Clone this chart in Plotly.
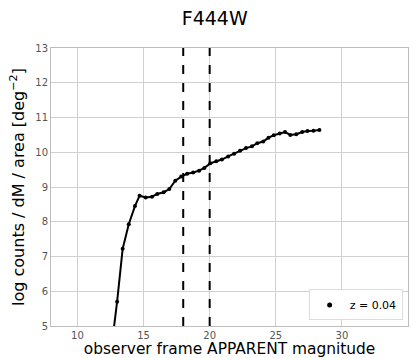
import plotly.graph_objects as go

mag = [12.55, 13.0, 13.42, 13.88, 14.35, 14.7, 15.16, 15.64, 16.04, 16.52, 16.95,
       17.4, 17.85, 18.3, 18.75, 19.2, 19.6, 20.05, 20.5, 20.93, 21.4, 21.85,
       22.3, 22.75, 23.2, 23.6, 24.05, 24.45, 24.85, 25.3, 25.7, 26.1, 26.55,
       27.0, 27.4, 27.85, 28.3]
logn = [4.3, 5.70, 7.22, 7.93, 8.45, 8.75, 8.70, 8.72, 8.80, 8.85, 8.94,
        9.18, 9.30, 9.38, 9.42, 9.47, 9.55, 9.68, 9.74, 9.79, 9.88, 9.96,
        10.04, 10.12, 10.17, 10.26, 10.31, 10.42, 10.49, 10.54, 10.58, 10.50, 10.52,
        10.58, 10.61, 10.62, 10.64]
cuts = [18, 20]
x_ticks = [10, 15, 20, 25, 30, 35]
y_ticks = [5, 6, 7, 8, 9, 10, 11, 12, 13]
label = "z = 0.04"

fig = go.Figure()
fig.add_trace(go.Scatter(x=mag, y=logn, mode="lines+markers",
                         line=dict(color="black", width=2),
                         marker=dict(color="black", size=4),
                         showlegend=False, cliponaxis=True))
fig.add_trace(go.Scatter(x=[None], y=[None], mode="markers",
                         marker=dict(color="black", size=5),
                         name=label, showlegend=True))
for c in cuts:
    fig.add_vline(x=c, line=dict(color="black", width=2, dash="dash"))

axis_common = dict(showgrid=True, gridcolor="#d0d0d0", gridwidth=1,
                   showline=True, linecolor="#bdbdbd", linewidth=1, mirror=True,
                   zeroline=False, ticks="",
                   tickfont=dict(family="DejaVu Sans", size=10, color="#555555"))
fig.update_xaxes(range=[8, 35], tickvals=x_ticks, **axis_common,
                 ticklabelstandoff=0,
                 title=dict(text="observer frame APPARENT magnitude",
                            font=dict(family="DejaVu Sans", size=15.4, color="black"),
                            standoff=0))
fig.update_yaxes(range=[5, 13], tickvals=y_ticks, **axis_common,
                 title=dict(text="log counts / dM / area [deg<sup>−2</sup>]",
                            font=dict(family="DejaVu Sans", size=16, color="black"),
                            standoff=6))
fig.update_layout(
    width=413, height=358,
    margin=dict(l=51, r=5, t=48, b=32),
    paper_bgcolor="white", plot_bgcolor="white",
    title=dict(text="F444W", x=0.52, xanchor="center", y=0.95, yanchor="middle",
               font=dict(family="DejaVu Sans", size=19, color="black")),
    legend=dict(x=0.985, y=0.02, xanchor="right", yanchor="bottom",
                bgcolor="white", bordercolor="#dddddd", borderwidth=1,
                font=dict(family="DejaVu Sans", size=11, color="black")),
)
fig.write_html("out.html")
